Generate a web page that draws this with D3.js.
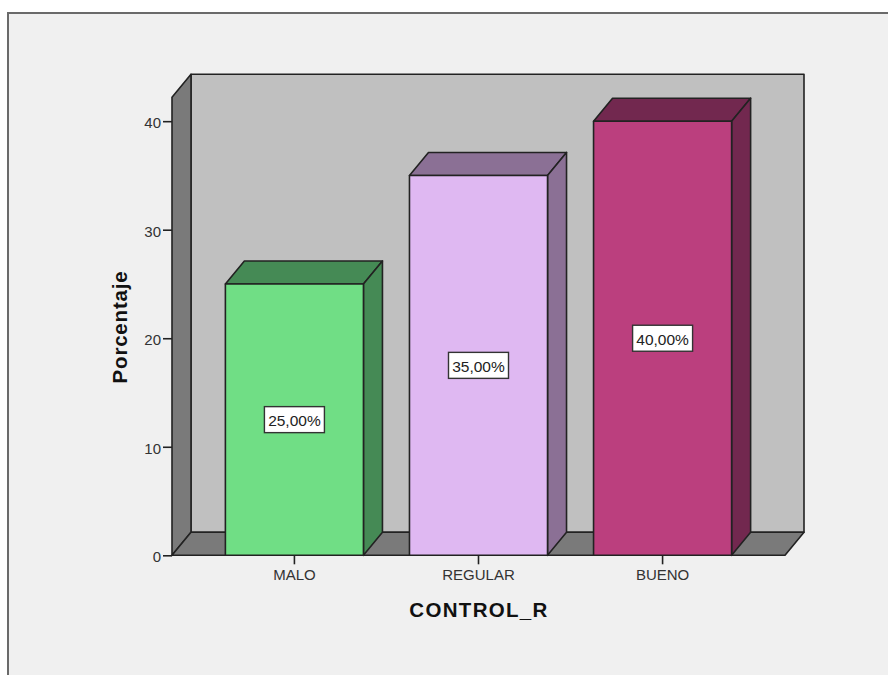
<!DOCTYPE html>
<html>
<head>
<meta charset="utf-8">
<script src="https://cdn.jsdelivr.net/npm/d3@7"></script>
<style>
  html, body { margin: 0; padding: 0; background: #fff; overflow: hidden; }
  text { font-family: "Liberation Sans", Arial, sans-serif; }
</style>
</head>
<body>
<script>
const categories = ['MALO', 'REGULAR', 'BUENO'];
const values = [25, 35, 40];
const valueLabels = ['25,00%', '35,00%', '40,00%'];
const frontColors = ['#70de85', '#dfb8f2', '#bb3f7e'];
const sideColors = ['#458a55', '#8b7095', '#72284f'];
const yTicks = [0, 10, 20, 30, 40];

const width = 888, height = 675;
const depthX = 19, depthY = 23;
const ink = '#222';

const svg = d3.select('body').append('svg')
  .attr('width', width)
  .attr('height', height);

// panel frame, runs off the right and bottom of the window
svg.append('rect')
  .attr('x', 8).attr('y', 13)
  .attr('width', 900).attr('height', 700)
  .attr('fill', '#f0f0f0')
  .attr('stroke', '#6a6a6a')
  .attr('stroke-width', 2);

const x = d3.scaleBand()
  .domain(categories)
  .range([172, 785])
  .paddingInner(0.25)
  .paddingOuter(0.29);

const y = d3.scaleLinear()
  .domain([0, 42.2])
  .range([555.3, 97.3]);

const [x0, x1] = x.range();
const [y0, y1] = y.range();

const poly = (pts, fill) => svg.append('polygon')
  .attr('points', pts.join(' '))
  .attr('fill', fill)
  .attr('stroke', ink)
  .attr('stroke-width', 1.6)
  .attr('stroke-linejoin', 'round');

// back wall, left wall, floor
poly([[x0 + depthX, y1 - depthY], [x1 + depthX, y1 - depthY], [x1 + depthX, y0 - depthY], [x0 + depthX, y0 - depthY]], '#c0c0c0');
poly([[x0, y1], [x0 + depthX, y1 - depthY], [x0 + depthX, y0 - depthY], [x0, y0]], '#7a7a7a');
poly([[x0, y0], [x0 + depthX, y0 - depthY], [x1 + depthX, y0 - depthY], [x1, y0]], '#7a7a7a');

// bars
categories.forEach((c, i) => {
  const l = x(c), r = l + x.bandwidth(), t = y(values[i]);
  poly([[l, t], [l + depthX, t - depthY], [r + depthX, t - depthY], [r, t]], sideColors[i]);
  poly([[r, t], [r + depthX, t - depthY], [r + depthX, y0 - depthY], [r, y0]], sideColors[i]);
  poly([[l, t], [r, t], [r, y0], [l, y0]], frontColors[i]);
});

// value labels
categories.forEach((c, i) => {
  const cx = x(c) + x.bandwidth() / 2, cy = y(values[i] / 2);
  svg.append('rect')
    .attr('x', cx - 30).attr('y', cy - 13)
    .attr('width', 60).attr('height', 26)
    .attr('fill', '#fff')
    .attr('stroke', '#333')
    .attr('stroke-width', 1.4);
  svg.append('text')
    .attr('x', cx).attr('y', cy + 6.5)
    .attr('text-anchor', 'middle')
    .attr('font-size', 15.5)
    .attr('fill', '#222')
    .text(valueLabels[i]);
});

// axes
const yAxis = svg.append('g')
  .attr('transform', `translate(${x0},0)`)
  .call(d3.axisLeft(y).tickValues(yTicks).tickSize(9).tickPadding(2));
const xAxis = svg.append('g')
  .attr('transform', `translate(0,${y0})`)
  .call(d3.axisBottom(x).tickSize(9).tickPadding(5));
[yAxis, xAxis].forEach(a => {
  a.select('.domain').remove();
  a.selectAll('line').attr('stroke', ink).attr('stroke-width', 1.6);
  a.selectAll('text')
    .attr('font-family', '"Liberation Sans", Arial, sans-serif')
    .attr('font-size', 15)
    .attr('fill', '#333');
});
yAxis.selectAll('text').attr('dy', '0.42em');

// axis titles
svg.append('text')
  .attr('x', 479).attr('y', 616.5)
  .attr('text-anchor', 'middle')
  .attr('font-size', 20.5)
  .attr('letter-spacing', 1.3)
  .attr('font-weight', 'bold')
  .attr('fill', '#111')
  .text('CONTROL_R');
svg.append('text')
  .attr('transform', 'translate(126.5,327) rotate(-90)')
  .attr('text-anchor', 'middle')
  .attr('font-size', 20.5)
  .attr('letter-spacing', 0.8)
  .attr('font-weight', 'bold')
  .attr('fill', '#111')
  .text('Porcentaje');
</script>
</body>
</html>
